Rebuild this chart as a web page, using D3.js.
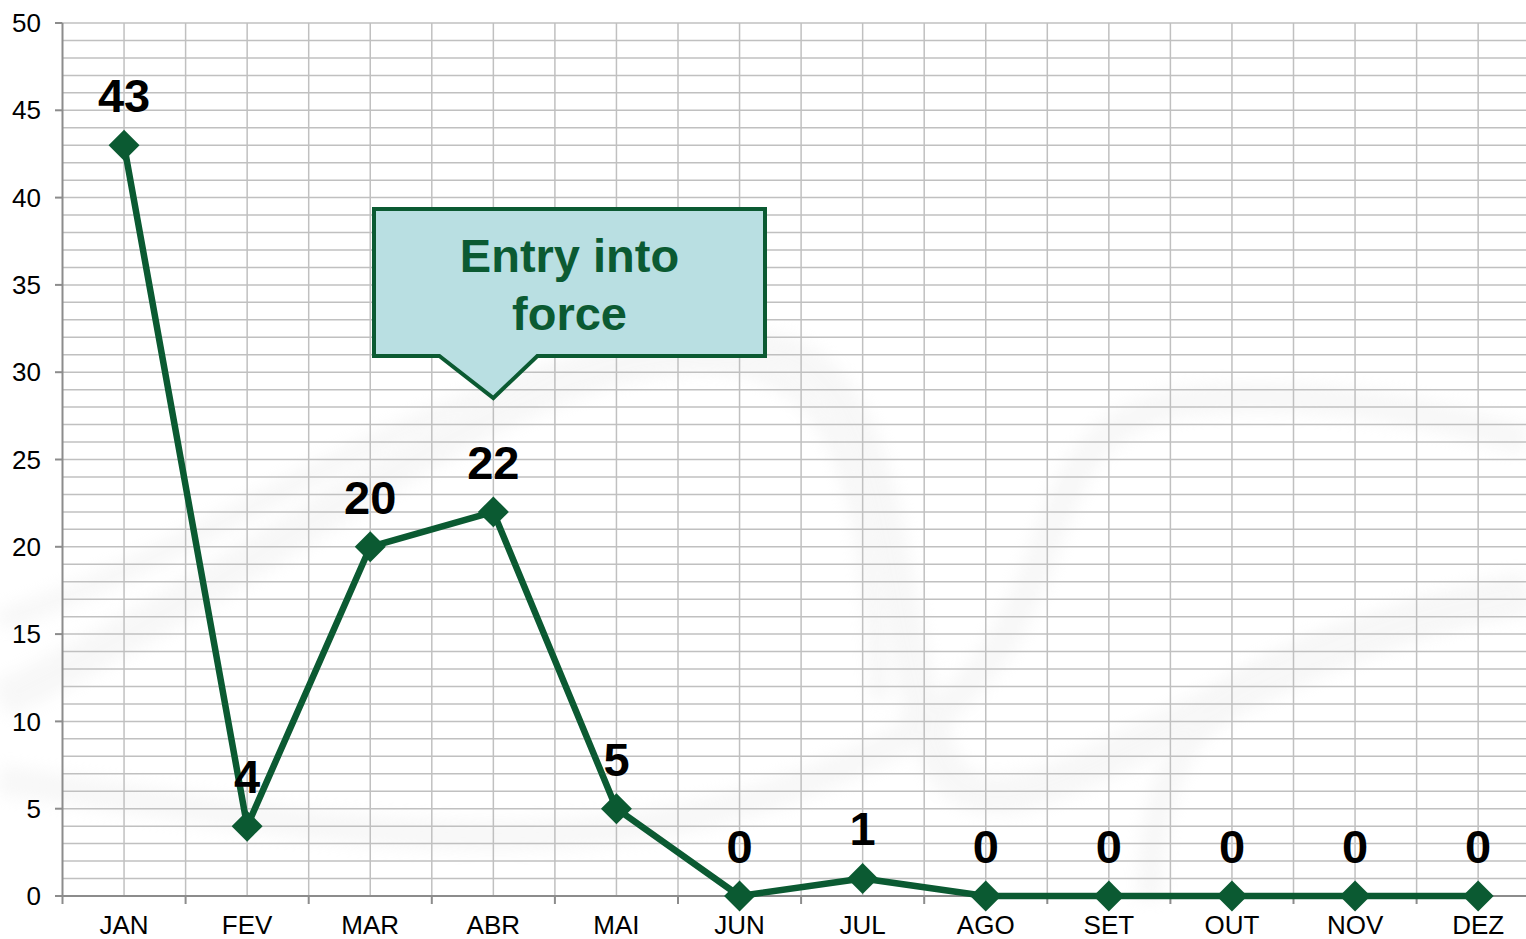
<!DOCTYPE html>
<html>
<head>
<meta charset="utf-8">
<script src="https://cdn.jsdelivr.net/npm/d3@7"></script>
<style>
  body { margin: 0; background: #fff; }
  svg { display: block; font-family: "Liberation Sans", Arial, sans-serif; }
</style>
</head>
<body>
<svg width="1526" height="939"></svg>
<script>
// monthly counts
const months = ['JAN', 'FEV', 'MAR', 'ABR', 'MAI', 'JUN', 'JUL', 'AGO', 'SET', 'OUT', 'NOV', 'DEZ'];
const counts = [43, 4, 20, 22, 5, 0, 1, 0, 0, 0, 0, 0];
const yTicks = [0, 5, 10, 15, 20, 25, 30, 35, 40, 45, 50];
const note = ['Entry into', 'force'];
const noteMonth = 'ABR';

const green = '#0b5a32';
const svg = d3.select('svg');

const left = 62.5, band = 123.1;
const x = d3.scaleBand().domain(months).range([left, left + band * months.length]);
const y = d3.scaleLinear().domain([0, 50]).range([896, 23]);
const cx = d => x(d) + x.bandwidth() / 2;

// faint background swooshes
const bg = svg.append('g').attr('opacity', 0.3);
const defs = svg.append('defs');
defs.append('filter').attr('id', 'blur').append('feGaussianBlur').attr('stdDeviation', 8);
const swoosh = [
  'M0,700 C300,560 520,330 760,350 C900,360 880,620 940,760 C1000,880 1200,660 1526,590',
  'M0,620 C200,560 420,380 640,360 C820,345 870,420 880,700',
  'M0,780 C300,820 600,900 900,740 C1100,620 1000,420 1200,400 C1350,390 1450,420 1526,440',
  'M1150,900 C1150,750 1200,640 1526,600'
];
bg.selectAll('path').data(swoosh).enter().append('path')
  .attr('d', d => d)
  .attr('fill', 'none')
  .attr('stroke', '#e6e6e6')
  .attr('stroke-width', (d, i) => [38, 22, 30, 26][i])
  .attr('filter', 'url(#blur)');

// grid
const grid = svg.append('g').attr('stroke', '#c0c0c0').attr('stroke-width', 1.5);
grid.selectAll('.h').data(d3.range(1, 51)).enter().append('line')
  .attr('x1', left).attr('x2', 1526)
  .attr('y1', d => y(d)).attr('y2', d => y(d));
const vlines = [];
months.forEach(m => { vlines.push(cx(m)); vlines.push(x(m) + x.bandwidth()); });
grid.selectAll('.v').data(vlines).enter().append('line')
  .attr('x1', d => d).attr('x2', d => d)
  .attr('y1', y(50)).attr('y2', y(0));

// axes
const axisColor = '#8c8c8c';
svg.append('line').attr('x1', left).attr('x2', left).attr('y1', y(50)).attr('y2', y(0))
  .attr('stroke', axisColor).attr('stroke-width', 2);
svg.append('line').attr('x1', left).attr('x2', 1526).attr('y1', y(0)).attr('y2', y(0))
  .attr('stroke', axisColor).attr('stroke-width', 2);

svg.selectAll('.ytick').data(yTicks).enter().append('line')
  .attr('x1', 55).attr('x2', left).attr('y1', d => y(d)).attr('y2', d => y(d))
  .attr('stroke', axisColor).attr('stroke-width', 2);
svg.selectAll('.ylab').data(yTicks).enter().append('text')
  .attr('x', 41).attr('y', d => y(d)).attr('dy', '0.35em')
  .attr('text-anchor', 'end').attr('font-size', 26).attr('fill', '#000')
  .text(d => d);

svg.selectAll('.xtick').data([left].concat(months.map(m => x(m) + x.bandwidth()))).enter().append('line')
  .attr('x1', d => d).attr('x2', d => d).attr('y1', y(0)).attr('y2', y(0) + 8)
  .attr('stroke', axisColor).attr('stroke-width', 2);
svg.selectAll('.xlab').data(months).enter().append('text')
  .attr('x', d => cx(d)).attr('y', 934)
  .attr('text-anchor', 'middle').attr('font-size', 26).attr('fill', '#000')
  .text(d => d);

// callout
const bx0 = 374, bx1 = 765, by0 = 209, by1 = 356;
const tipX = cx(noteMonth), tipY = 398;
const callout = `M${bx0},${by0} L${bx1},${by0} L${bx1},${by1} L${tipX + 44},${by1} L${tipX},${tipY} L${tipX - 54},${by1} L${bx0},${by1} Z`;
svg.append('path').attr('d', callout)
  .attr('fill', '#b9dfe2').attr('stroke', green).attr('stroke-width', 4).attr('stroke-linejoin', 'miter');
svg.selectAll('.note').data(note).enter().append('text')
  .attr('x', (bx0 + bx1) / 2).attr('y', (d, i) => 272 + i * 58)
  .attr('text-anchor', 'middle').attr('font-size', 47).attr('font-weight', 'bold')
  .attr('fill', green).text(d => d);

// line
const data = months.map((m, i) => ({ m: m, v: counts[i] }));
svg.append('path').datum(data)
  .attr('d', d3.line().x(d => cx(d.m)).y(d => y(d.v)))
  .attr('fill', 'none').attr('stroke', green).attr('stroke-width', 6.5).attr('stroke-linejoin', 'round');

svg.selectAll('.pt').data(data).enter().append('path')
  .attr('d', d3.symbol().type(d3.symbolSquare).size(480))
  .attr('transform', d => `translate(${cx(d.m)},${y(d.v)}) rotate(45)`)
  .attr('fill', green);

svg.selectAll('.val').data(data).enter().append('text')
  .attr('x', d => cx(d.m)).attr('y', d => y(d.v) - 50).attr('dy', '0.36em')
  .attr('text-anchor', 'middle').attr('font-size', 47).attr('font-weight', 'bold')
  .attr('fill', '#000').text(d => d.v);
</script>
</body>
</html>
